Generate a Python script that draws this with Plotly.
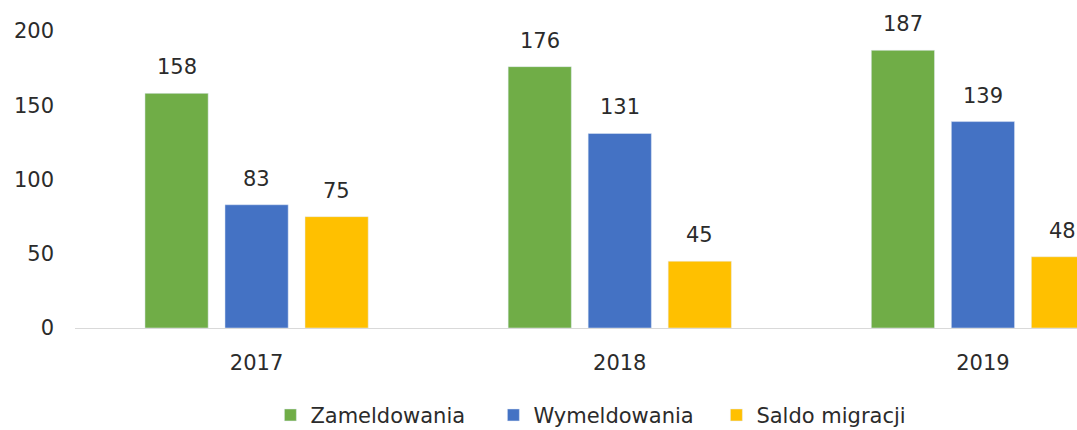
import plotly.graph_objects as go

years = ["2017", "2018", "2019"]
zameldowania = [158, 176, 187]
wymeldowania = [83, 131, 139]
saldo = [75, 45, 48]
y_ticks = [0, 50, 100, 150, 200]

series = [
    ("Zameldowania", zameldowania, "#70AD47"),
    ("Wymeldowania", wymeldowania, "#4472C4"),
    ("Saldo migracji", saldo, "#FFC000"),
]

FONT = "DejaVu Sans"
TXT = "#2b2b2b"

fig = go.Figure()
slot_px = 80
for i, (name, vals, color) in enumerate(series):
    fig.add_trace(go.Bar(x=years, y=vals, name=name, marker_color=color))
    for j, v in enumerate(vals):
        fig.add_annotation(x=j, y=v, text=str(v), showarrow=False,
                           xref="x", yref="y", yanchor="bottom",
                           xshift=(i - 1) * slot_px, yshift=12,
                           font=dict(family=FONT, size=21, color=TXT))

fig.update_layout(
    width=1077, height=430,
    margin=dict(l=75, r=0, t=31, b=102, autoexpand=False),
    plot_bgcolor="white", paper_bgcolor="white",
    barmode="group", bargap=0.339, bargroupgap=0.21,
    font=dict(family=FONT, size=21, color=TXT),
    showlegend=True,
    legend=dict(orientation="h", x=0.195, xanchor="left", y=-0.294, yanchor="middle",
                font=dict(family=FONT, size=21, color=TXT), traceorder="normal",
                entrywidth=178),
    xaxis=dict(type="category", range=[-0.5, 2.259], showline=True, linecolor="#d9d9d9",
               linewidth=1, ticks="", showgrid=False, tickfont=dict(size=21),
               ticklabelstandoff=16),
    yaxis=dict(range=[0, 200], tickvals=y_ticks, showgrid=False, zeroline=False,
               showline=False, ticks="", tickfont=dict(size=21), ticklabelstandoff=20),
)

fig.write_html("out.html", config={"displayModeBar": False},
               post_script="document.body.style.margin='0';")
